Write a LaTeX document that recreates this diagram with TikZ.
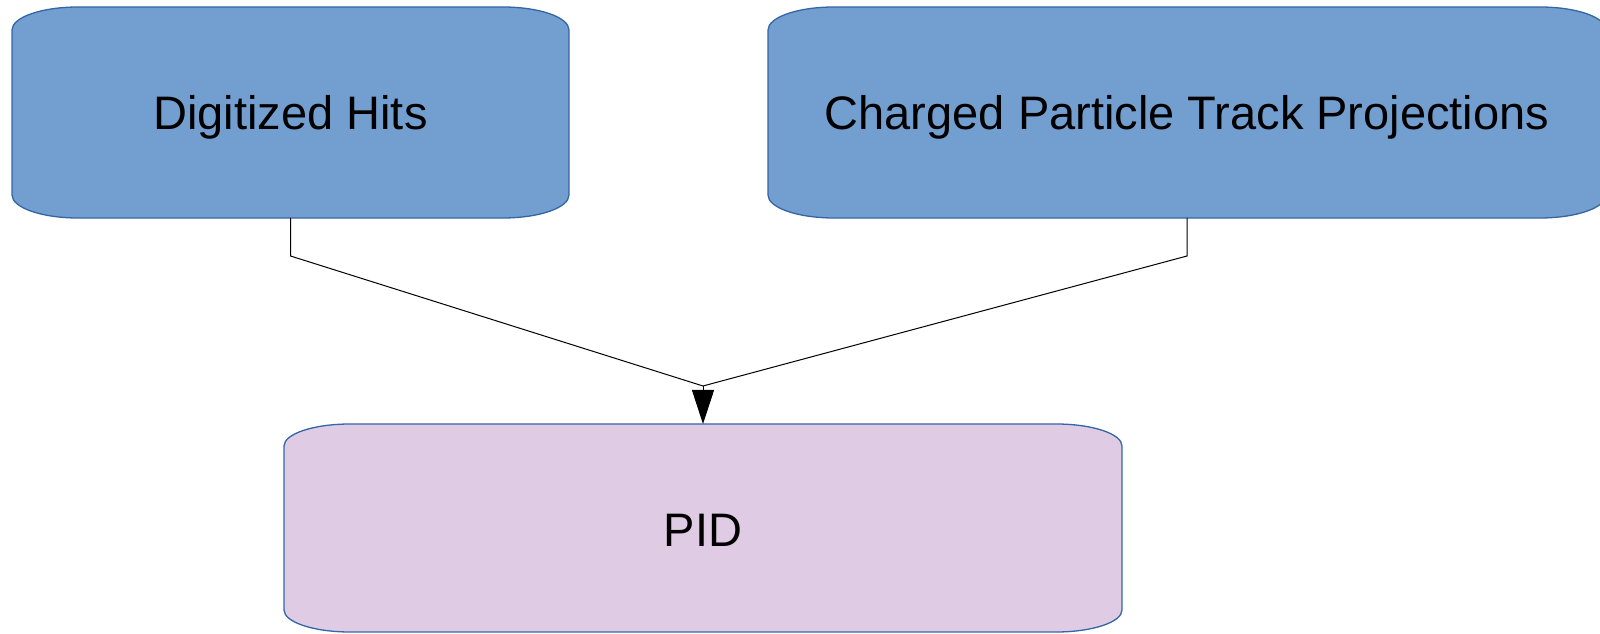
\documentclass[tikz,border=0pt]{standalone}
\usepackage{fontspec}
\setmainfont{Liberation Sans}
\usetikzlibrary{arrows.meta,calc}

\definecolor{skyfill}{HTML}{729FCF}
\definecolor{edgeblue}{HTML}{3465A4}
\definecolor{lilacfill}{HTML}{DFCBE3}

% rounded "terminator" outline with elliptical corners, drawn around a named node
\newcommand\termoutline[3]{%
  \path[draw=edgeblue, line width=1.3pt, fill=#2]
    ([yshift=-#3]#1.north west)
      arc[start angle=180, end angle=90, x radius=66pt, y radius=#3]
    -- ([xshift=-66pt]#1.north east)
      arc[start angle=90, end angle=0, x radius=66pt, y radius=#3]
    -- ([yshift=#3]#1.south east)
      arc[start angle=0, end angle=-90, x radius=66pt, y radius=#3]
    -- ([xshift=66pt]#1.south west)
      arc[start angle=-90, end angle=-180, x radius=66pt, y radius=#3]
    -- cycle;}

\tikzset{
  boxlabel/.style={inner sep=0pt, outer sep=0pt, font=\fontsize{47}{56}\selectfont},
  link/.style={draw=black, line width=1pt},
  arrowlink/.style={link, -{Triangle[length=34pt, width=22pt]}}
}

\begin{document}
\begin{tikzpicture}[x=1pt, y=1pt]
  \useasboundingbox (0,0) rectangle (1600,634);
  \clip (0,0) rectangle (1600,634);

  % node frames (positions and sizes)
  \node[boxlabel, minimum width=557pt, minimum height=211pt] (hits) at (290.5,521.5) {};
  \node[boxlabel, minimum width=838pt, minimum height=211pt] (tracks) at (1187,521.5) {};
  \node[boxlabel, minimum width=838pt, minimum height=208pt] (pid) at (703,106) {};

  % box outlines
  \termoutline{hits}{skyfill}{23pt}
  \termoutline{tracks}{skyfill}{23pt}
  \termoutline{pid}{lilacfill}{22pt}

  % labels
  \node[boxlabel, yshift=-5pt] at (hits.center) {Digitized Hits};
  \node[boxlabel, yshift=-5pt] at (tracks.center) {Charged Particle Track Projections};
  \node[boxlabel, yshift=-2pt] at (pid.center) {PID};

  % connectors
  \coordinate (bendA) at (hits.south |- 0,378);
  \coordinate (bendB) at (tracks.south |- 0,378);
  \coordinate (merge) at (703,248);
  \draw[link] (hits.south) -- (bendA) -- (merge);
  \draw[link] (tracks.south) -- (bendB) -- (merge);
  \draw[arrowlink] (merge) -- (pid.north);
\end{tikzpicture}
\end{document}
